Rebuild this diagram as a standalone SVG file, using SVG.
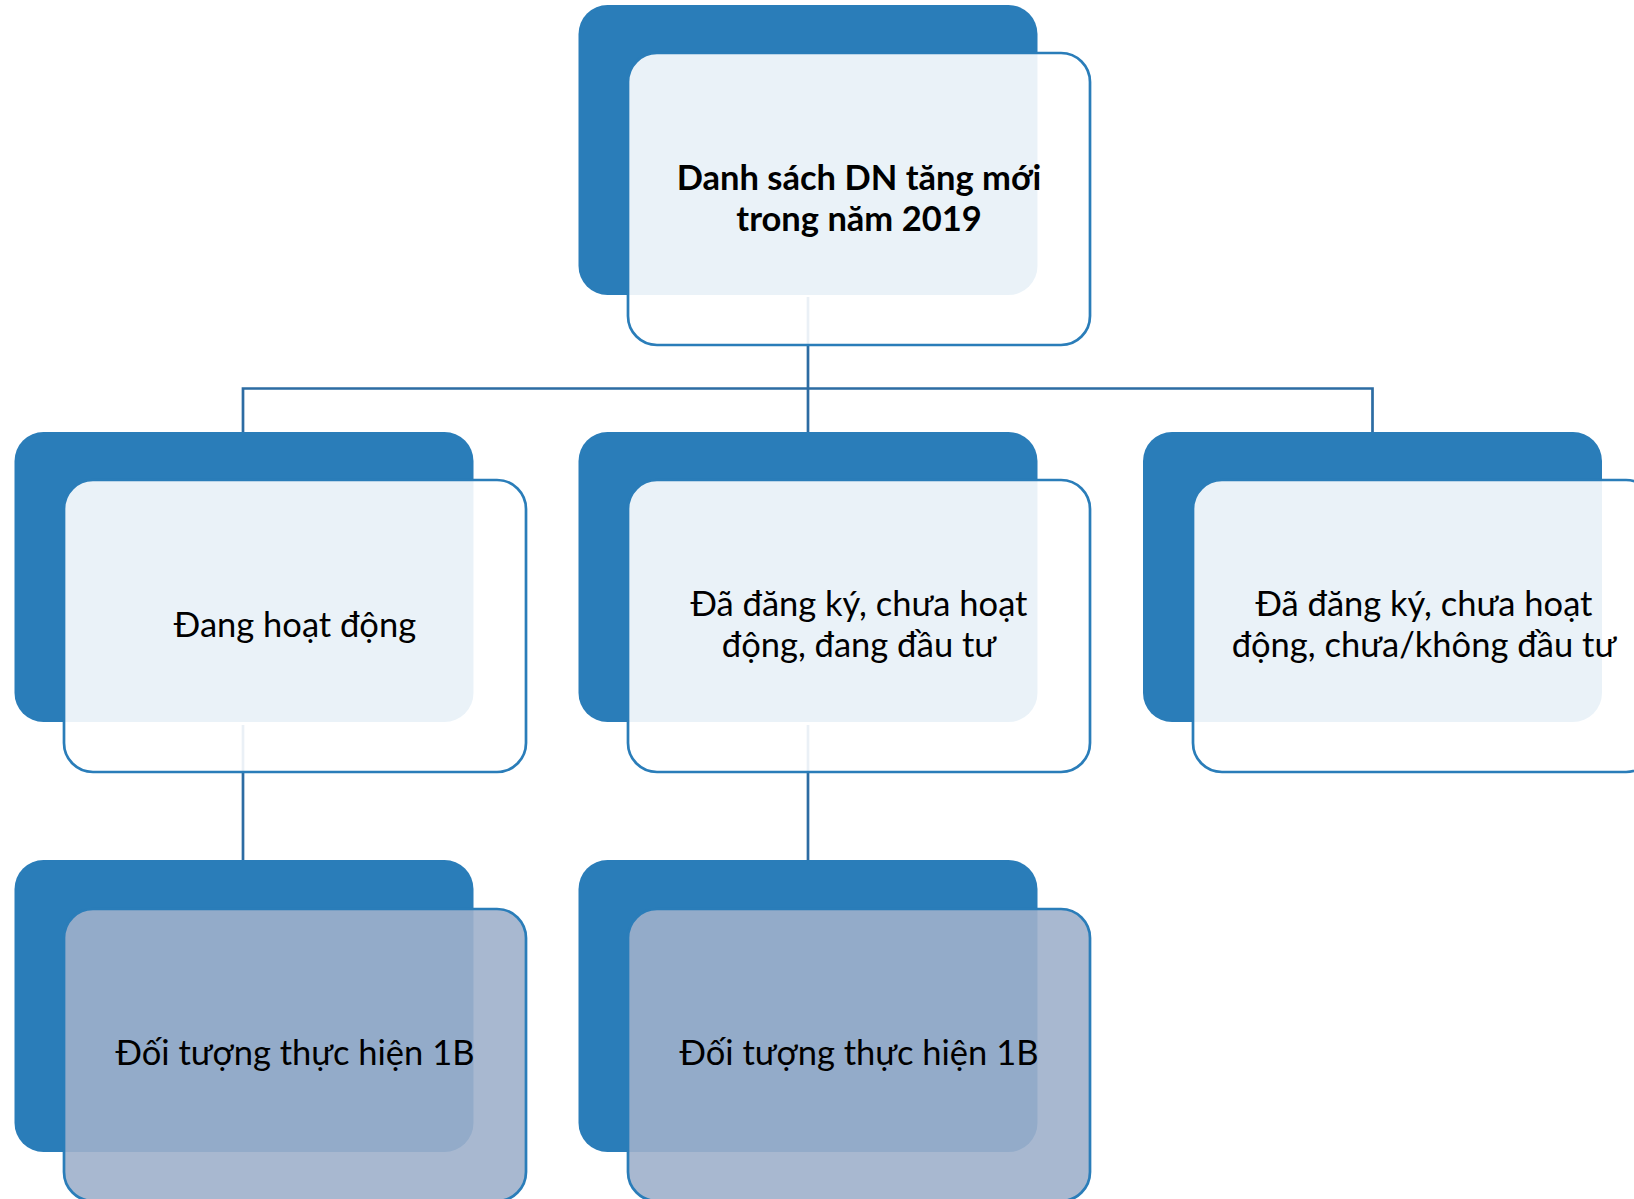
<svg xmlns="http://www.w3.org/2000/svg" width="1634" height="1199" viewBox="0 0 1634 1199">
<style>
.dark{fill:#2A7DB9}
.front{fill:#FFFFFF;fill-opacity:0.9;stroke:#2A7DB9;stroke-width:2.7}
.front2{fill:#9FB0CB;fill-opacity:0.9;stroke:#2A7DB9;stroke-width:2.7}
.conn{fill:none;stroke:#2C6CA3;stroke-width:2.7}
text{font-family:Lato,"Liberation Sans",sans-serif;font-size:34.5px;fill:#000;text-anchor:middle}
.b{font-weight:bold}
</style>
<rect width="1634" height="1199" fill="#fff"/>
<g id="connectors">
  <path class="conn" d="M808 297 V432 M243 432 V388.5 H1372.5 V432"/>
  <path class="conn" d="M243 725 V860 M808 725 V860"/>
</g>
<g id="node-root">
  <rect class="dark" x="578.5" y="5" width="459" height="290" rx="29"/>
  <rect class="front" x="628" y="53" width="462" height="292" rx="29"/>
  <text class="b" x="859" y="190">Danh sách DN tăng mới</text>
  <text class="b" x="859" y="231">trong năm 2019</text>
</g>
<g id="node-dang-hoat-dong">
  <rect class="dark" x="14.5" y="432" width="459" height="290" rx="29"/>
  <rect class="front" x="64" y="480" width="462" height="292" rx="29"/>
  <text x="295" y="637">Đang hoạt động</text>
</g>
<g id="node-dang-dau-tu">
  <rect class="dark" x="578.5" y="432" width="459" height="290" rx="29"/>
  <rect class="front" x="628" y="480" width="462" height="292" rx="29"/>
  <text x="859" y="616">Đã đăng ký, chưa hoạt</text>
  <text x="859" y="657">động, đang đầu tư</text>
</g>
<g id="node-khong-dau-tu">
  <rect class="dark" x="1143" y="432" width="459" height="290" rx="29"/>
  <rect class="front" x="1193" y="480" width="462" height="292" rx="29"/>
  <text x="1424" y="616">Đã đăng ký, chưa hoạt</text>
  <text x="1424" y="657">động, chưa/không đầu tư</text>
</g>
<g id="node-1b-left">
  <rect class="dark" x="14.5" y="860" width="459" height="292" rx="29"/>
  <rect class="front2" x="64" y="909" width="462" height="292" rx="29"/>
  <text x="295" y="1065">Đối tượng thực hiện 1B</text>
</g>
<g id="node-1b-center">
  <rect class="dark" x="578.5" y="860" width="459" height="292" rx="29"/>
  <rect class="front2" x="628" y="909" width="462" height="292" rx="29"/>
  <text x="859" y="1065">Đối tượng thực hiện 1B</text>
</g>
</svg>
